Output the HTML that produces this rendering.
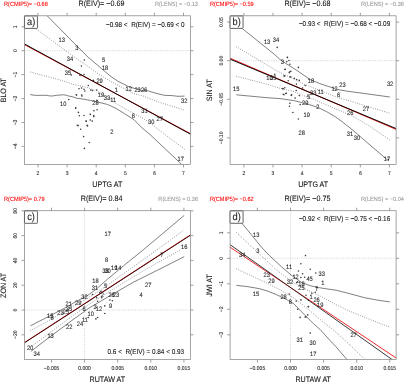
<!DOCTYPE html>
<html><head><meta charset="utf-8"><title>EIV regression panels</title>
<style>
html,body{margin:0;padding:0;background:#fff;}
body{width:404px;height:382px;overflow:hidden;font-family:"Liberation Sans",sans-serif;}
svg{display:block;text-rendering:geometricPrecision;will-change:transform;font-family:"Liberation Sans",sans-serif;}
</style></head><body>
<svg width="404" height="382" viewBox="0 0 404 382" font-family="Liberation Sans, sans-serif">
<rect width="404" height="382" fill="#fff"/>
<g transform="translate(0,0)">
<clipPath id="c0_0"><rect x="24.5" y="15.8" width="165.9" height="148.6"/></clipPath>
<text transform="translate(4,5.95) scale(1,1.1)" font-size="5.6" fill="#f00" stroke="#f00" stroke-width="0.08" text-anchor="start">R(CMIP5)= −0.68</text>
<text transform="translate(101.5,5.6) scale(1,1.1)" font-size="7.2" fill="#111" stroke="#111" stroke-width="0.08" text-anchor="middle">R(EIV)= −0.69</text>
<text transform="translate(198,5.95) scale(1,1.1)" font-size="5.6" fill="#9a9a9a" stroke="#9a9a9a" stroke-width="0.08" text-anchor="end">R(LENS) = −0.13</text>
<line x1="24.5" y1="50.7" x2="190.4" y2="50.7" stroke="#cbcbcb" stroke-width="0.8" stroke-dasharray="1.1 1.2"/>
<g clip-path="url(#c0_0)">
<path d="M40 8.5 L46.9 15.5 L76.9 46 L88 57.1 L95 63 L102.6 69.5 L110 75.8 L117.8 81.2 L127.9 86.3 L135 88.6 L142 90.5 L147.5 90.7 L155 93 L164.3 95.3 L172 95.6 L178 96.3 L184.5 96.1" fill="none" stroke="#5c5c5c" stroke-width="0.78"/>
<path d="M30.2 94.5 L33 95.1 L36.4 95.4 L42 95.3 L46.3 95.3 L49 95.8 L50.6 96 L53 95.9 L56.2 95.4 L60 95 L63.6 94.8 L66 95.2 L68.5 96 L71 96.4 L74 97.2 L76 98.1 L82 98.9 L90.8 100.5 L100 102.6 L107.7 104.5 L116 108.4 L124.5 113.6 L134 119.7 L142 127.9 L150 134.5 L181.6 164.3 L186 168.5" fill="none" stroke="#5c5c5c" stroke-width="0.78"/>
<path d="M30.4 24.9 L36 28.9 L74 56.8 L88 66.4 L99.3 74.5 L112 82.2 L124.5 88.8 L134 93.6 L142 95.6 L160 102.5 L183.7 109.9" fill="none" stroke="#444" stroke-width="0.72" stroke-dasharray="0.75 1.6"/>
<path d="M30.4 72 L60 80 L74 84.6 L88 87.7 L97.6 91.3 L114.4 102.6 L134 113.8 L142 117.8 L150.8 123.4 L164.3 134 L184.5 149" fill="none" stroke="#444" stroke-width="0.72" stroke-dasharray="0.75 1.6"/>
<circle cx="84.3" cy="60" r="0.78" fill="#383838"/>
<circle cx="81.4" cy="66" r="0.78" fill="#383838"/>
<circle cx="84" cy="74.5" r="0.78" fill="#383838"/>
<circle cx="80" cy="75.4" r="0.78" fill="#383838"/>
<circle cx="93.4" cy="80.4" r="0.78" fill="#383838"/>
<circle cx="88.3" cy="85.5" r="0.78" fill="#383838"/>
<circle cx="79" cy="88.8" r="0.78" fill="#383838"/>
<circle cx="81.6" cy="88" r="0.78" fill="#383838"/>
<circle cx="84" cy="89.3" r="0.78" fill="#383838"/>
<circle cx="90.8" cy="90" r="0.78" fill="#383838"/>
<circle cx="92.5" cy="90.5" r="0.78" fill="#383838"/>
<circle cx="96.7" cy="90" r="0.78" fill="#383838"/>
<circle cx="76.5" cy="94.7" r="0.78" fill="#383838"/>
<circle cx="81.6" cy="95" r="0.78" fill="#383838"/>
<circle cx="71.3" cy="75" r="0.78" fill="#383838"/>
<circle cx="84.8" cy="91" r="0.78" fill="#383838"/>
<circle cx="76.4" cy="94.9" r="0.78" fill="#383838"/>
<circle cx="82" cy="96.1" r="0.78" fill="#383838"/>
<circle cx="68.8" cy="99.5" r="0.78" fill="#383838"/>
<circle cx="75.6" cy="108.2" r="0.78" fill="#383838"/>
<circle cx="78.4" cy="112.4" r="0.78" fill="#383838"/>
<circle cx="79.3" cy="115.8" r="0.78" fill="#383838"/>
<circle cx="84" cy="115.5" r="0.78" fill="#383838"/>
<circle cx="86.2" cy="121.3" r="0.78" fill="#383838"/>
<circle cx="78.1" cy="125.6" r="0.78" fill="#383838"/>
<circle cx="80.6" cy="129.3" r="0.78" fill="#383838"/>
<circle cx="75.7" cy="107.7" r="0.78" fill="#383838"/>
<circle cx="90.3" cy="114.4" r="0.78" fill="#383838"/>
<circle cx="93.9" cy="110.7" r="0.78" fill="#383838"/>
<circle cx="97.1" cy="109.7" r="0.78" fill="#383838"/>
<circle cx="93.7" cy="115.6" r="0.78" fill="#383838"/>
<circle cx="86.1" cy="121.1" r="0.78" fill="#383838"/>
<circle cx="90.3" cy="120" r="0.78" fill="#383838"/>
<circle cx="92.2" cy="121.1" r="0.78" fill="#383838"/>
<circle cx="77.4" cy="125.4" r="0.78" fill="#383838"/>
<circle cx="87.1" cy="125.4" r="0.78" fill="#383838"/>
<circle cx="83.6" cy="136.6" r="0.78" fill="#383838"/>
<circle cx="89.2" cy="142.5" r="0.78" fill="#383838"/>
<circle cx="84.4" cy="148.4" r="0.78" fill="#383838"/>
<circle cx="93.8" cy="116.6" r="0.78" fill="#383838"/>
<circle cx="87.6" cy="126" r="0.78" fill="#383838"/>
<circle cx="96.9" cy="100.3" r="0.78" fill="#383838"/>
<path d="M22.5 43.53 L192.5 134.77" fill="none" stroke="#f00000" stroke-width="0.95"/>
<path d="M22.5 42.91 L192.5 135.29" fill="none" stroke="#000" stroke-width="0.95"/>
</g>
<text transform="translate(61.8,41.7) scale(1,1.1)" font-size="5.75" fill="#262626" stroke="#262626" stroke-width="0.08" text-anchor="middle">13</text>
<text transform="translate(76.9,50.1) scale(1,1.1)" font-size="5.75" fill="#262626" stroke="#262626" stroke-width="0.08" text-anchor="middle">3</text>
<text transform="translate(70,60.5) scale(1,1.1)" font-size="5.75" fill="#262626" stroke="#262626" stroke-width="0.08" text-anchor="middle">34</text>
<text transform="translate(68,75) scale(1,1.1)" font-size="5.75" fill="#262626" stroke="#262626" stroke-width="0.08" text-anchor="middle">35</text>
<text transform="translate(103.5,61.9) scale(1,1.1)" font-size="5.75" fill="#262626" stroke="#262626" stroke-width="0.08" text-anchor="middle">5</text>
<text transform="translate(105.1,69.5) scale(1,1.1)" font-size="5.75" fill="#262626" stroke="#262626" stroke-width="0.08" text-anchor="middle">18</text>
<text transform="translate(99.6,83.1) scale(1,1.1)" font-size="5.75" fill="#262626" stroke="#262626" stroke-width="0.08" text-anchor="middle">29</text>
<text transform="translate(116.4,92.3) scale(1,1.1)" font-size="5.75" fill="#262626" stroke="#262626" stroke-width="0.08" text-anchor="middle">1</text>
<text transform="translate(128.7,91) scale(1,1.1)" font-size="5.75" fill="#262626" stroke="#262626" stroke-width="0.08" text-anchor="middle">12</text>
<text transform="translate(137.6,92.2) scale(1,1.1)" font-size="5.75" fill="#262626" stroke="#262626" stroke-width="0.08" text-anchor="middle">23</text>
<text transform="translate(144.1,92.1) scale(1,1.1)" font-size="5.75" fill="#262626" stroke="#262626" stroke-width="0.08" text-anchor="middle">26</text>
<text transform="translate(100.9,96.9) scale(1,1.1)" font-size="5.75" fill="#262626" stroke="#262626" stroke-width="0.08" text-anchor="middle">19</text>
<text transform="translate(107,99.7) scale(1,1.1)" font-size="5.75" fill="#262626" stroke="#262626" stroke-width="0.08" text-anchor="middle">33</text>
<text transform="translate(113.2,102.4) scale(1,1.1)" font-size="5.75" fill="#262626" stroke="#262626" stroke-width="0.08" text-anchor="middle">11</text>
<text transform="translate(95.4,105) scale(1,1.1)" font-size="5.75" fill="#262626" stroke="#262626" stroke-width="0.08" text-anchor="middle">28</text>
<text transform="translate(63.3,106.4) scale(1,1.1)" font-size="5.75" fill="#262626" stroke="#262626" stroke-width="0.08" text-anchor="middle">10</text>
<text transform="translate(184.2,103) scale(1,1.1)" font-size="5.75" fill="#262626" stroke="#262626" stroke-width="0.08" text-anchor="middle">32</text>
<text transform="translate(144.4,113.1) scale(1,1.1)" font-size="5.75" fill="#262626" stroke="#262626" stroke-width="0.08" text-anchor="middle">31</text>
<text transform="translate(159.8,121) scale(1,1.1)" font-size="5.75" fill="#262626" stroke="#262626" stroke-width="0.08" text-anchor="middle">27</text>
<text transform="translate(151.3,124.1) scale(1,1.1)" font-size="5.75" fill="#262626" stroke="#262626" stroke-width="0.08" text-anchor="middle">30</text>
<text transform="translate(133.3,118.3) scale(1,1.1)" font-size="5.75" fill="#262626" stroke="#262626" stroke-width="0.08" text-anchor="middle">6</text>
<text transform="translate(111.9,134) scale(1,1.1)" font-size="5.75" fill="#262626" stroke="#262626" stroke-width="0.08" text-anchor="middle">2</text>
<text transform="translate(180.8,161.4) scale(1,1.1)" font-size="5.75" fill="#262626" stroke="#262626" stroke-width="0.08" text-anchor="middle">17</text>
<rect x="24.5" y="15.8" width="165.9" height="148.6" fill="none" stroke="#888" stroke-width="0.75"/>
<line x1="38" y1="164.4" x2="38" y2="167.4" stroke="#848484" stroke-width="0.78"/>
<line x1="38" y1="15.8" x2="38" y2="12.8" stroke="#848484" stroke-width="0.78"/>
<text transform="translate(38,175) scale(1,1.1)" font-size="5.05" fill="#262626" stroke="#262626" stroke-width="0.08" text-anchor="middle">2</text>
<line x1="67.1" y1="164.4" x2="67.1" y2="167.4" stroke="#848484" stroke-width="0.78"/>
<line x1="67.1" y1="15.8" x2="67.1" y2="12.8" stroke="#848484" stroke-width="0.78"/>
<text transform="translate(67.1,175) scale(1,1.1)" font-size="5.05" fill="#262626" stroke="#262626" stroke-width="0.08" text-anchor="middle">3</text>
<line x1="96.2" y1="164.4" x2="96.2" y2="167.4" stroke="#848484" stroke-width="0.78"/>
<line x1="96.2" y1="15.8" x2="96.2" y2="12.8" stroke="#848484" stroke-width="0.78"/>
<text transform="translate(96.2,175) scale(1,1.1)" font-size="5.05" fill="#262626" stroke="#262626" stroke-width="0.08" text-anchor="middle">4</text>
<line x1="125.3" y1="164.4" x2="125.3" y2="167.4" stroke="#848484" stroke-width="0.78"/>
<line x1="125.3" y1="15.8" x2="125.3" y2="12.8" stroke="#848484" stroke-width="0.78"/>
<text transform="translate(125.3,175) scale(1,1.1)" font-size="5.05" fill="#262626" stroke="#262626" stroke-width="0.08" text-anchor="middle">5</text>
<line x1="154.4" y1="164.4" x2="154.4" y2="167.4" stroke="#848484" stroke-width="0.78"/>
<line x1="154.4" y1="15.8" x2="154.4" y2="12.8" stroke="#848484" stroke-width="0.78"/>
<text transform="translate(154.4,175) scale(1,1.1)" font-size="5.05" fill="#262626" stroke="#262626" stroke-width="0.08" text-anchor="middle">6</text>
<line x1="183.5" y1="164.4" x2="183.5" y2="167.4" stroke="#848484" stroke-width="0.78"/>
<line x1="183.5" y1="15.8" x2="183.5" y2="12.8" stroke="#848484" stroke-width="0.78"/>
<text transform="translate(183.5,175) scale(1,1.1)" font-size="5.05" fill="#262626" stroke="#262626" stroke-width="0.08" text-anchor="middle">7</text>
<line x1="24.5" y1="26.77" x2="21.5" y2="26.77" stroke="#848484" stroke-width="0.78"/>
<line x1="190.4" y1="26.77" x2="193.4" y2="26.77" stroke="#848484" stroke-width="0.78"/>
<text transform="translate(17.4,26.77) rotate(-90) scale(1,1.1)" font-size="5.05" fill="#262626" stroke="#262626" stroke-width="0.08" text-anchor="middle">1</text>
<line x1="24.5" y1="50.7" x2="21.5" y2="50.7" stroke="#848484" stroke-width="0.78"/>
<line x1="190.4" y1="50.7" x2="193.4" y2="50.7" stroke="#848484" stroke-width="0.78"/>
<text transform="translate(17.4,50.7) rotate(-90) scale(1,1.1)" font-size="5.05" fill="#262626" stroke="#262626" stroke-width="0.08" text-anchor="middle">0</text>
<line x1="24.5" y1="74.63" x2="21.5" y2="74.63" stroke="#848484" stroke-width="0.78"/>
<line x1="190.4" y1="74.63" x2="193.4" y2="74.63" stroke="#848484" stroke-width="0.78"/>
<text transform="translate(17.4,74.63) rotate(-90) scale(1,1.1)" font-size="5.05" fill="#262626" stroke="#262626" stroke-width="0.08" text-anchor="middle">−1</text>
<line x1="24.5" y1="98.56" x2="21.5" y2="98.56" stroke="#848484" stroke-width="0.78"/>
<line x1="190.4" y1="98.56" x2="193.4" y2="98.56" stroke="#848484" stroke-width="0.78"/>
<text transform="translate(17.4,98.56) rotate(-90) scale(1,1.1)" font-size="5.05" fill="#262626" stroke="#262626" stroke-width="0.08" text-anchor="middle">−2</text>
<line x1="24.5" y1="122.49" x2="21.5" y2="122.49" stroke="#848484" stroke-width="0.78"/>
<line x1="190.4" y1="122.49" x2="193.4" y2="122.49" stroke="#848484" stroke-width="0.78"/>
<text transform="translate(17.4,122.49) rotate(-90) scale(1,1.1)" font-size="5.05" fill="#262626" stroke="#262626" stroke-width="0.08" text-anchor="middle">−3</text>
<line x1="24.5" y1="146.42" x2="21.5" y2="146.42" stroke="#848484" stroke-width="0.78"/>
<line x1="190.4" y1="146.42" x2="193.4" y2="146.42" stroke="#848484" stroke-width="0.78"/>
<text transform="translate(17.4,146.42) rotate(-90) scale(1,1.1)" font-size="5.05" fill="#262626" stroke="#262626" stroke-width="0.08" text-anchor="middle">−4</text>
<text transform="translate(107.3,187.1) scale(1,1.1)" font-size="7.15" fill="#111" stroke="#111" stroke-width="0.08" text-anchor="middle">UPTG AT</text>
<text transform="translate(6.4,90.2) rotate(-90) scale(1,1.1)" font-size="7.1" fill="#111" stroke="#111" stroke-width="0.08" text-anchor="middle">BLO AT</text>
<rect x="24.45" y="16.0" width="13" height="12.4" rx="0.6" fill="#fff" stroke="#5c5c5c" stroke-width="0.95"/>
<text transform="translate(31.1,25.05) scale(1,1.1)" font-size="9.3" fill="#222" stroke="#222" stroke-width="0.08" text-anchor="middle">a)</text>
<text transform="translate(184.6,26.6) scale(1,1.1)" font-size="6.4" fill="#111" stroke="#111" stroke-width="0.08" text-anchor="end" xml:space="preserve">−0.98 &lt;  R(EIV) = −0.69 &lt; 0</text>
</g>
<g transform="translate(205.9,0)">
<clipPath id="c205_0"><rect x="24.2" y="15.8" width="166.0" height="148.6"/></clipPath>
<text transform="translate(4,5.95) scale(1,1.1)" font-size="5.6" fill="#f00" stroke="#f00" stroke-width="0.08" text-anchor="start">R(CMIP5)= −0.59</text>
<text transform="translate(101.5,5.6) scale(1,1.1)" font-size="7.2" fill="#111" stroke="#111" stroke-width="0.08" text-anchor="middle">R(EIV)= −0.68</text>
<text transform="translate(198,5.95) scale(1,1.1)" font-size="5.6" fill="#9a9a9a" stroke="#9a9a9a" stroke-width="0.08" text-anchor="end">R(LENS) = −0.36</text>
<line x1="24.2" y1="60.7" x2="190.2" y2="60.7" stroke="#cbcbcb" stroke-width="0.8" stroke-dasharray="1.1 1.2"/>
<g clip-path="url(#c205_0)">
<path d="M30.4 23.5 L36 28.2 L68.8 54.6 L74 59.4 L80 63.5 L90.8 70.3 L104.3 79.6 L114 83.6 L124.5 87.1 L130 89.2 L142 91.3 L160 93.7 L183.9 97" fill="none" stroke="#5c5c5c" stroke-width="0.78"/>
<path d="M30.4 94.8 L60 97.6 L74 98.6 L88 100.6 L95.9 102.6 L104 104.8 L112.7 107.7 L121 111.8 L129.6 116.9 L136 121.5 L142 126.2 L150 132.8 L160 141.5 L182.2 160.5" fill="none" stroke="#5c5c5c" stroke-width="0.78"/>
<path d="M30.4 46.7 L70.5 70.6 L74 72.3 L99.3 84.6 L124.5 94.7 L132.9 97.8 L142 100.3 L160 106 L184.7 113.4" fill="none" stroke="#444" stroke-width="0.72" stroke-dasharray="0.75 1.6"/>
<path d="M30.4 76.3 L60 83.9 L74 88.3 L88 91.6 L102.6 97.6 L107.7 99.3 L130 109 L142 113.9 L150 118 L165 127 L183.9 140" fill="none" stroke="#444" stroke-width="0.72" stroke-dasharray="0.75 1.6"/>
<circle cx="71.3" cy="47.4" r="0.78" fill="#383838"/>
<circle cx="81.4" cy="57.6" r="0.78" fill="#383838"/>
<circle cx="83.1" cy="60.5" r="0.78" fill="#383838"/>
<circle cx="80.9" cy="61.7" r="0.78" fill="#383838"/>
<circle cx="84" cy="64.2" r="0.78" fill="#383838"/>
<circle cx="79.3" cy="69.3" r="0.78" fill="#383838"/>
<circle cx="84.8" cy="71.4" r="0.78" fill="#383838"/>
<circle cx="83.6" cy="72.1" r="0.78" fill="#383838"/>
<circle cx="78.1" cy="76" r="0.78" fill="#383838"/>
<circle cx="84.8" cy="76.8" r="0.78" fill="#383838"/>
<circle cx="68.8" cy="74.3" r="0.78" fill="#383838"/>
<circle cx="82.3" cy="80.7" r="0.78" fill="#383838"/>
<circle cx="76.4" cy="88.6" r="0.78" fill="#383838"/>
<circle cx="78.9" cy="87.8" r="0.78" fill="#383838"/>
<circle cx="78.1" cy="94.8" r="0.78" fill="#383838"/>
<circle cx="80.3" cy="93.3" r="0.78" fill="#383838"/>
<circle cx="85.3" cy="95.4" r="0.78" fill="#383838"/>
<circle cx="84" cy="103.3" r="0.78" fill="#383838"/>
<circle cx="83.6" cy="106.3" r="0.78" fill="#383838"/>
<circle cx="87" cy="112.5" r="0.78" fill="#383838"/>
<circle cx="81.6" cy="57.3" r="0.78" fill="#383838"/>
<circle cx="92.5" cy="67.4" r="0.78" fill="#383838"/>
<circle cx="79" cy="69.5" r="0.78" fill="#383838"/>
<circle cx="83.3" cy="72.8" r="0.78" fill="#383838"/>
<circle cx="78.7" cy="75.9" r="0.78" fill="#383838"/>
<circle cx="84.1" cy="77" r="0.78" fill="#383838"/>
<circle cx="88.3" cy="78.4" r="0.78" fill="#383838"/>
<circle cx="90.8" cy="79.6" r="0.78" fill="#383838"/>
<circle cx="93.4" cy="80.4" r="0.78" fill="#383838"/>
<circle cx="90.5" cy="84.1" r="0.78" fill="#383838"/>
<circle cx="99.3" cy="85.5" r="0.78" fill="#383838"/>
<circle cx="96.7" cy="88" r="0.78" fill="#383838"/>
<circle cx="77.4" cy="88.8" r="0.78" fill="#383838"/>
<circle cx="90.3" cy="90.5" r="0.78" fill="#383838"/>
<circle cx="79.9" cy="93.5" r="0.78" fill="#383838"/>
<circle cx="77.4" cy="94.2" r="0.78" fill="#383838"/>
<circle cx="85.8" cy="94.7" r="0.78" fill="#383838"/>
<circle cx="93.4" cy="95.6" r="0.78" fill="#383838"/>
<circle cx="89.2" cy="98.1" r="0.78" fill="#383838"/>
<circle cx="94.2" cy="104.6" r="0.78" fill="#383838"/>
<circle cx="92.5" cy="119" r="0.78" fill="#383838"/>
<circle cx="182.5" cy="159.5" r="0.78" fill="#383838"/>
<path d="M22.5 57.54 L192.5 130.36" fill="none" stroke="#f00000" stroke-width="0.95"/>
<path d="M22.5 58.46 L192.5 129.54" fill="none" stroke="#000" stroke-width="0.95"/>
</g>
<text transform="translate(61.2,43.8) scale(1,1.1)" font-size="5.75" fill="#262626" stroke="#262626" stroke-width="0.08" text-anchor="middle">13</text>
<text transform="translate(70,41.7) scale(1,1.1)" font-size="5.75" fill="#262626" stroke="#262626" stroke-width="0.08" text-anchor="middle">34</text>
<text transform="translate(76.5,64) scale(1,1.1)" font-size="5.75" fill="#262626" stroke="#262626" stroke-width="0.08" text-anchor="middle">3</text>
<text transform="translate(30.4,91.2) scale(1,1.1)" font-size="5.75" fill="#262626" stroke="#262626" stroke-width="0.08" text-anchor="middle">15</text>
<text transform="translate(63.5,79.5) scale(1,1.1)" font-size="5.75" fill="#262626" stroke="#262626" stroke-width="0.08" text-anchor="middle">10</text>
<text transform="translate(67.4,80) scale(1,1.1)" font-size="5.75" fill="#262626" stroke="#262626" stroke-width="0.08" text-anchor="middle">35</text>
<text transform="translate(105.1,82.6) scale(1,1.1)" font-size="5.75" fill="#262626" stroke="#262626" stroke-width="0.08" text-anchor="middle">18</text>
<text transform="translate(136.6,86.8) scale(1,1.1)" font-size="5.75" fill="#262626" stroke="#262626" stroke-width="0.08" text-anchor="middle">23</text>
<text transform="translate(128.7,91) scale(1,1.1)" font-size="5.75" fill="#262626" stroke="#262626" stroke-width="0.08" text-anchor="middle">12</text>
<text transform="translate(132.7,97.4) scale(1,1.1)" font-size="5.75" fill="#262626" stroke="#262626" stroke-width="0.08" text-anchor="middle">6</text>
<text transform="translate(114.9,93.5) scale(1,1.1)" font-size="5.75" fill="#262626" stroke="#262626" stroke-width="0.08" text-anchor="middle">11</text>
<text transform="translate(107.3,94.7) scale(1,1.1)" font-size="5.75" fill="#262626" stroke="#262626" stroke-width="0.08" text-anchor="middle">33</text>
<text transform="translate(102.6,99.1) scale(1,1.1)" font-size="5.75" fill="#262626" stroke="#262626" stroke-width="0.08" text-anchor="middle">5</text>
<text transform="translate(99.3,105) scale(1,1.1)" font-size="5.75" fill="#262626" stroke="#262626" stroke-width="0.08" text-anchor="middle">29</text>
<text transform="translate(111.9,109) scale(1,1.1)" font-size="5.75" fill="#262626" stroke="#262626" stroke-width="0.08" text-anchor="middle">2</text>
<text transform="translate(100.9,116.9) scale(1,1.1)" font-size="5.75" fill="#262626" stroke="#262626" stroke-width="0.08" text-anchor="middle">19</text>
<text transform="translate(95.9,134.8) scale(1,1.1)" font-size="5.75" fill="#262626" stroke="#262626" stroke-width="0.08" text-anchor="middle">28</text>
<text transform="translate(184.2,85.8) scale(1,1.1)" font-size="5.75" fill="#262626" stroke="#262626" stroke-width="0.08" text-anchor="middle">32</text>
<text transform="translate(160,110.5) scale(1,1.1)" font-size="5.75" fill="#262626" stroke="#262626" stroke-width="0.08" text-anchor="middle">27</text>
<text transform="translate(144.3,115) scale(1,1.1)" font-size="5.75" fill="#262626" stroke="#262626" stroke-width="0.08" text-anchor="middle">26</text>
<text transform="translate(144,135.8) scale(1,1.1)" font-size="5.75" fill="#262626" stroke="#262626" stroke-width="0.08" text-anchor="middle">31</text>
<text transform="translate(151,139.6) scale(1,1.1)" font-size="5.75" fill="#262626" stroke="#262626" stroke-width="0.08" text-anchor="middle">30</text>
<text transform="translate(181,161) scale(1,1.1)" font-size="5.75" fill="#262626" stroke="#262626" stroke-width="0.08" text-anchor="middle">17</text>
<rect x="24.2" y="15.8" width="166.0" height="148.6" fill="none" stroke="#888" stroke-width="0.75"/>
<line x1="38" y1="164.4" x2="38" y2="167.4" stroke="#848484" stroke-width="0.78"/>
<line x1="38" y1="15.8" x2="38" y2="12.8" stroke="#848484" stroke-width="0.78"/>
<text transform="translate(38,175) scale(1,1.1)" font-size="5.05" fill="#262626" stroke="#262626" stroke-width="0.08" text-anchor="middle">2</text>
<line x1="67.1" y1="164.4" x2="67.1" y2="167.4" stroke="#848484" stroke-width="0.78"/>
<line x1="67.1" y1="15.8" x2="67.1" y2="12.8" stroke="#848484" stroke-width="0.78"/>
<text transform="translate(67.1,175) scale(1,1.1)" font-size="5.05" fill="#262626" stroke="#262626" stroke-width="0.08" text-anchor="middle">3</text>
<line x1="96.2" y1="164.4" x2="96.2" y2="167.4" stroke="#848484" stroke-width="0.78"/>
<line x1="96.2" y1="15.8" x2="96.2" y2="12.8" stroke="#848484" stroke-width="0.78"/>
<text transform="translate(96.2,175) scale(1,1.1)" font-size="5.05" fill="#262626" stroke="#262626" stroke-width="0.08" text-anchor="middle">4</text>
<line x1="125.3" y1="164.4" x2="125.3" y2="167.4" stroke="#848484" stroke-width="0.78"/>
<line x1="125.3" y1="15.8" x2="125.3" y2="12.8" stroke="#848484" stroke-width="0.78"/>
<text transform="translate(125.3,175) scale(1,1.1)" font-size="5.05" fill="#262626" stroke="#262626" stroke-width="0.08" text-anchor="middle">5</text>
<line x1="154.4" y1="164.4" x2="154.4" y2="167.4" stroke="#848484" stroke-width="0.78"/>
<line x1="154.4" y1="15.8" x2="154.4" y2="12.8" stroke="#848484" stroke-width="0.78"/>
<text transform="translate(154.4,175) scale(1,1.1)" font-size="5.05" fill="#262626" stroke="#262626" stroke-width="0.08" text-anchor="middle">6</text>
<line x1="183.5" y1="164.4" x2="183.5" y2="167.4" stroke="#848484" stroke-width="0.78"/>
<line x1="183.5" y1="15.8" x2="183.5" y2="12.8" stroke="#848484" stroke-width="0.78"/>
<text transform="translate(183.5,175) scale(1,1.1)" font-size="5.05" fill="#262626" stroke="#262626" stroke-width="0.08" text-anchor="middle">7</text>
<line x1="24.2" y1="22.1" x2="21.2" y2="22.1" stroke="#848484" stroke-width="0.78"/>
<line x1="190.2" y1="22.1" x2="193.2" y2="22.1" stroke="#848484" stroke-width="0.78"/>
<text transform="translate(17.4,22.1) rotate(-90) scale(1,1.1)" font-size="5.05" fill="#262626" stroke="#262626" stroke-width="0.08" text-anchor="middle">0.05</text>
<line x1="24.2" y1="60.7" x2="21.2" y2="60.7" stroke="#848484" stroke-width="0.78"/>
<line x1="190.2" y1="60.7" x2="193.2" y2="60.7" stroke="#848484" stroke-width="0.78"/>
<text transform="translate(17.4,60.7) rotate(-90) scale(1,1.1)" font-size="5.05" fill="#262626" stroke="#262626" stroke-width="0.08" text-anchor="middle">0.00</text>
<line x1="24.2" y1="99.3" x2="21.2" y2="99.3" stroke="#848484" stroke-width="0.78"/>
<line x1="190.2" y1="99.3" x2="193.2" y2="99.3" stroke="#848484" stroke-width="0.78"/>
<text transform="translate(17.4,99.3) rotate(-90) scale(1,1.1)" font-size="5.05" fill="#262626" stroke="#262626" stroke-width="0.08" text-anchor="middle">−0.05</text>
<line x1="24.2" y1="137.9" x2="21.2" y2="137.9" stroke="#848484" stroke-width="0.78"/>
<line x1="190.2" y1="137.9" x2="193.2" y2="137.9" stroke="#848484" stroke-width="0.78"/>
<text transform="translate(17.4,137.9) rotate(-90) scale(1,1.1)" font-size="5.05" fill="#262626" stroke="#262626" stroke-width="0.08" text-anchor="middle">−0.10</text>
<text transform="translate(107.3,187.1) scale(1,1.1)" font-size="7.15" fill="#111" stroke="#111" stroke-width="0.08" text-anchor="middle">UPTG AT</text>
<text transform="translate(6.4,90.2) rotate(-90) scale(1,1.1)" font-size="7.1" fill="#111" stroke="#111" stroke-width="0.08" text-anchor="middle">SIN AT</text>
<rect x="24.15" y="16.0" width="13" height="12.4" rx="0.6" fill="#fff" stroke="#5c5c5c" stroke-width="0.95"/>
<text transform="translate(30.8,25.05) scale(1,1.1)" font-size="9.3" fill="#222" stroke="#222" stroke-width="0.08" text-anchor="middle">b)</text>
<text transform="translate(184.3,26.2) scale(1,1.1)" font-size="6.4" fill="#111" stroke="#111" stroke-width="0.08" text-anchor="end" xml:space="preserve">−0.93 &lt;  R(EIV) = −0.68 &lt; −0.09</text>
</g>
<g transform="translate(0,195.2)">
<clipPath id="c0_195"><rect x="24.5" y="15.5" width="165.9" height="148.9"/></clipPath>
<text transform="translate(4,5.3) scale(1,1.1)" font-size="5.6" fill="#f00" stroke="#f00" stroke-width="0.08" text-anchor="start">R(CMIP5)= 0.79</text>
<text transform="translate(101.6,5.6) scale(1,1.1)" font-size="7.2" fill="#111" stroke="#111" stroke-width="0.08" text-anchor="middle">R(EIV)= 0.84</text>
<text transform="translate(198,5.3) scale(1,1.1)" font-size="5.6" fill="#9a9a9a" stroke="#9a9a9a" stroke-width="0.08" text-anchor="end">R(LENS) = 0.36</text>
<line x1="24.5" y1="114.8" x2="190.4" y2="114.8" stroke="#cbcbcb" stroke-width="0.8" stroke-dasharray="1.1 1.2"/>
<line x1="84.6" y1="15.5" x2="84.6" y2="164.4" stroke="#cbcbcb" stroke-width="0.8" stroke-dasharray="1.1 1.2"/>
<g clip-path="url(#c0_195)">
<path d="M30.4 130.6 L50 120.6 L68.8 110.7 L74 107.5 L88 100 L95.9 94.2 L107.7 83.8 L124.5 69.8 L142 55.7 L160 40.6 L184.2 20.2" fill="none" stroke="#5c5c5c" stroke-width="0.78"/>
<path d="M30.9 156.2 L49.5 141.9 L74 123.7 L84 116.6 L88 113.5 L110 100.5 L134 86.7 L160.1 73.7 L184.2 61.5" fill="none" stroke="#5c5c5c" stroke-width="0.78"/>
<path d="M30.4 135.5 L60 119.2 L74 110.6 L88 102.6 L100 95.2 L116.9 83.2 L142 65.4 L160 52.5 L183.7 35.1" fill="none" stroke="#444" stroke-width="0.72" stroke-dasharray="0.75 1.6"/>
<path d="M31.8 151.1 L60 130 L74 119.6 L88 109.9 L110 95.8 L134 81.3 L142 76.5 L160 66 L181.1 54.5" fill="none" stroke="#444" stroke-width="0.72" stroke-dasharray="0.75 1.6"/>
<circle cx="109.9" cy="104.8" r="0.78" fill="#383838"/>
<circle cx="112.4" cy="105.5" r="0.78" fill="#383838"/>
<circle cx="104.8" cy="110.7" r="0.78" fill="#383838"/>
<circle cx="104.8" cy="118.3" r="0.78" fill="#383838"/>
<circle cx="95.9" cy="123.7" r="0.78" fill="#383838"/>
<circle cx="97.6" cy="122.3" r="0.78" fill="#383838"/>
<circle cx="88.3" cy="122.3" r="0.78" fill="#383838"/>
<circle cx="100.9" cy="96.2" r="0.78" fill="#383838"/>
<circle cx="99.6" cy="97.6" r="0.78" fill="#383838"/>
<circle cx="96.7" cy="102.6" r="0.78" fill="#383838"/>
<circle cx="101.8" cy="102.6" r="0.78" fill="#383838"/>
<circle cx="97.6" cy="106" r="0.78" fill="#383838"/>
<circle cx="92.5" cy="99.3" r="0.78" fill="#383838"/>
<path d="M22.5 148.6 L192.5 38.35" fill="none" stroke="#f00000" stroke-width="0.9"/>
<path d="M22.5 148.9 L192.5 38.7" fill="none" stroke="#200606" stroke-width="0.9"/>
</g>
<text transform="translate(107.7,41) scale(1,1.1)" font-size="5.75" fill="#262626" stroke="#262626" stroke-width="0.08" text-anchor="middle">17</text>
<text transform="translate(106.5,66.6) scale(1,1.1)" font-size="5.75" fill="#262626" stroke="#262626" stroke-width="0.08" text-anchor="middle">8</text>
<text transform="translate(114.3,74.5) scale(1,1.1)" font-size="5.75" fill="#262626" stroke="#262626" stroke-width="0.08" text-anchor="middle">19</text>
<text transform="translate(118.3,74.7) scale(1,1.1)" font-size="5.75" fill="#262626" stroke="#262626" stroke-width="0.08" text-anchor="middle">14</text>
<text transform="translate(105.4,77.9) scale(1,1.1)" font-size="5.75" fill="#262626" stroke="#262626" stroke-width="0.08" text-anchor="middle">33</text>
<text transform="translate(107.6,77.9) scale(1,1.1)" font-size="5.75" fill="#262626" stroke="#262626" stroke-width="0.08" text-anchor="middle">30</text>
<text transform="translate(184.2,54.1) scale(1,1.1)" font-size="5.75" fill="#262626" stroke="#262626" stroke-width="0.08" text-anchor="middle">16</text>
<text transform="translate(161.8,62) scale(1,1.1)" font-size="5.75" fill="#262626" stroke="#262626" stroke-width="0.08" text-anchor="middle">7</text>
<text transform="translate(95.5,88) scale(1,1.1)" font-size="5.75" fill="#262626" stroke="#262626" stroke-width="0.08" text-anchor="middle">18</text>
<text transform="translate(105.5,92.5) scale(1,1.1)" font-size="5.75" fill="#262626" stroke="#262626" stroke-width="0.08" text-anchor="middle">5</text>
<text transform="translate(95,94.7) scale(1,1.1)" font-size="5.75" fill="#262626" stroke="#262626" stroke-width="0.08" text-anchor="middle">31</text>
<text transform="translate(84.4,103.7) scale(1,1.1)" font-size="5.75" fill="#262626" stroke="#262626" stroke-width="0.08" text-anchor="middle">32</text>
<text transform="translate(78.2,110) scale(1,1.1)" font-size="5.75" fill="#262626" stroke="#262626" stroke-width="0.08" text-anchor="middle">29</text>
<text transform="translate(102.3,101.5) scale(1,1.1)" font-size="5.75" fill="#262626" stroke="#262626" stroke-width="0.08" text-anchor="middle">2</text>
<text transform="translate(111.6,101.8) scale(1,1.1)" font-size="5.75" fill="#262626" stroke="#262626" stroke-width="0.08" text-anchor="middle">26</text>
<text transform="translate(116,101.8) scale(1,1.1)" font-size="5.75" fill="#262626" stroke="#262626" stroke-width="0.08" text-anchor="middle">23</text>
<text transform="translate(141,102.2) scale(1,1.1)" font-size="5.75" fill="#262626" stroke="#262626" stroke-width="0.08" text-anchor="middle">4</text>
<text transform="translate(110.7,113.2) scale(1,1.1)" font-size="5.75" fill="#262626" stroke="#262626" stroke-width="0.08" text-anchor="middle">9</text>
<text transform="translate(95,114.1) scale(1,1.1)" font-size="5.75" fill="#262626" stroke="#262626" stroke-width="0.08" text-anchor="middle">3</text>
<text transform="translate(98.9,115.8) scale(1,1.1)" font-size="5.75" fill="#262626" stroke="#262626" stroke-width="0.08" text-anchor="middle">12</text>
<text transform="translate(84.2,116) scale(1,1.1)" font-size="5.75" fill="#262626" stroke="#262626" stroke-width="0.08" text-anchor="middle">6</text>
<text transform="translate(90.8,120.8) scale(1,1.1)" font-size="5.75" fill="#262626" stroke="#262626" stroke-width="0.08" text-anchor="middle">10</text>
<text transform="translate(85,127.2) scale(1,1.1)" font-size="5.75" fill="#262626" stroke="#262626" stroke-width="0.08" text-anchor="middle">11</text>
<text transform="translate(79.9,130.9) scale(1,1.1)" font-size="5.75" fill="#262626" stroke="#262626" stroke-width="0.08" text-anchor="middle">24</text>
<text transform="translate(30.1,154.6) scale(1,1.1)" font-size="5.75" fill="#262626" stroke="#262626" stroke-width="0.08" text-anchor="middle">20</text>
<text transform="translate(36.8,160.6) scale(1,1.1)" font-size="5.75" fill="#262626" stroke="#262626" stroke-width="0.08" text-anchor="middle">34</text>
<text transform="translate(50.6,142.9) scale(1,1.1)" font-size="5.75" fill="#262626" stroke="#262626" stroke-width="0.08" text-anchor="middle">13</text>
<text transform="translate(50.3,123) scale(1,1.1)" font-size="5.75" fill="#262626" stroke="#262626" stroke-width="0.08" text-anchor="middle">15</text>
<text transform="translate(52.2,124.4) scale(1,1.1)" font-size="5.75" fill="#262626" stroke="#262626" stroke-width="0.08" text-anchor="middle">8</text>
<text transform="translate(68.8,110.8) scale(1,1.1)" font-size="5.75" fill="#262626" stroke="#262626" stroke-width="0.08" text-anchor="middle">21</text>
<text transform="translate(60.5,120) scale(1,1.1)" font-size="5.75" fill="#262626" stroke="#262626" stroke-width="0.08" text-anchor="middle">23</text>
<text transform="translate(66,119.2) scale(1,1.1)" font-size="5.75" fill="#262626" stroke="#262626" stroke-width="0.08" text-anchor="middle">25</text>
<text transform="translate(69,115.8) scale(1,1.1)" font-size="5.75" fill="#262626" stroke="#262626" stroke-width="0.08" text-anchor="middle">35</text>
<text transform="translate(69.2,133.5) scale(1,1.1)" font-size="5.75" fill="#262626" stroke="#262626" stroke-width="0.08" text-anchor="middle">22</text>
<text transform="translate(148.3,91.5) scale(1,1.1)" font-size="5.75" fill="#262626" stroke="#262626" stroke-width="0.08" text-anchor="middle">27</text>
<rect x="24.5" y="15.5" width="165.9" height="148.9" fill="none" stroke="#888" stroke-width="0.75"/>
<line x1="51.5" y1="164.4" x2="51.5" y2="167.4" stroke="#848484" stroke-width="0.78"/>
<line x1="51.5" y1="15.5" x2="51.5" y2="12.5" stroke="#848484" stroke-width="0.78"/>
<text transform="translate(51.5,175) scale(1,1.1)" font-size="5.05" fill="#262626" stroke="#262626" stroke-width="0.08" text-anchor="middle">−0.005</text>
<line x1="84.6" y1="164.4" x2="84.6" y2="167.4" stroke="#848484" stroke-width="0.78"/>
<line x1="84.6" y1="15.5" x2="84.6" y2="12.5" stroke="#848484" stroke-width="0.78"/>
<text transform="translate(84.6,175) scale(1,1.1)" font-size="5.05" fill="#262626" stroke="#262626" stroke-width="0.08" text-anchor="middle">0.000</text>
<line x1="117.7" y1="164.4" x2="117.7" y2="167.4" stroke="#848484" stroke-width="0.78"/>
<line x1="117.7" y1="15.5" x2="117.7" y2="12.5" stroke="#848484" stroke-width="0.78"/>
<text transform="translate(117.7,175) scale(1,1.1)" font-size="5.05" fill="#262626" stroke="#262626" stroke-width="0.08" text-anchor="middle">0.005</text>
<line x1="150.8" y1="164.4" x2="150.8" y2="167.4" stroke="#848484" stroke-width="0.78"/>
<line x1="150.8" y1="15.5" x2="150.8" y2="12.5" stroke="#848484" stroke-width="0.78"/>
<text transform="translate(150.8,175) scale(1,1.1)" font-size="5.05" fill="#262626" stroke="#262626" stroke-width="0.08" text-anchor="middle">0.010</text>
<line x1="183.9" y1="164.4" x2="183.9" y2="167.4" stroke="#848484" stroke-width="0.78"/>
<line x1="183.9" y1="15.5" x2="183.9" y2="12.5" stroke="#848484" stroke-width="0.78"/>
<text transform="translate(183.9,175) scale(1,1.1)" font-size="5.05" fill="#262626" stroke="#262626" stroke-width="0.08" text-anchor="middle">0.015</text>
<line x1="24.5" y1="15.64" x2="21.5" y2="15.64" stroke="#848484" stroke-width="0.78"/>
<line x1="190.4" y1="15.64" x2="193.4" y2="15.64" stroke="#848484" stroke-width="0.78"/>
<text transform="translate(17.4,15.64) rotate(-90) scale(1,1.1)" font-size="5.05" fill="#262626" stroke="#262626" stroke-width="0.08" text-anchor="middle">80</text>
<line x1="24.5" y1="40.43" x2="21.5" y2="40.43" stroke="#848484" stroke-width="0.78"/>
<line x1="190.4" y1="40.43" x2="193.4" y2="40.43" stroke="#848484" stroke-width="0.78"/>
<text transform="translate(17.4,40.43) rotate(-90) scale(1,1.1)" font-size="5.05" fill="#262626" stroke="#262626" stroke-width="0.08" text-anchor="middle">60</text>
<line x1="24.5" y1="65.22" x2="21.5" y2="65.22" stroke="#848484" stroke-width="0.78"/>
<line x1="190.4" y1="65.22" x2="193.4" y2="65.22" stroke="#848484" stroke-width="0.78"/>
<text transform="translate(17.4,65.22) rotate(-90) scale(1,1.1)" font-size="5.05" fill="#262626" stroke="#262626" stroke-width="0.08" text-anchor="middle">40</text>
<line x1="24.5" y1="90.01" x2="21.5" y2="90.01" stroke="#848484" stroke-width="0.78"/>
<line x1="190.4" y1="90.01" x2="193.4" y2="90.01" stroke="#848484" stroke-width="0.78"/>
<text transform="translate(17.4,90.01) rotate(-90) scale(1,1.1)" font-size="5.05" fill="#262626" stroke="#262626" stroke-width="0.08" text-anchor="middle">20</text>
<line x1="24.5" y1="114.8" x2="21.5" y2="114.8" stroke="#848484" stroke-width="0.78"/>
<line x1="190.4" y1="114.8" x2="193.4" y2="114.8" stroke="#848484" stroke-width="0.78"/>
<text transform="translate(17.4,114.8) rotate(-90) scale(1,1.1)" font-size="5.05" fill="#262626" stroke="#262626" stroke-width="0.08" text-anchor="middle">0</text>
<line x1="24.5" y1="139.59" x2="21.5" y2="139.59" stroke="#848484" stroke-width="0.78"/>
<line x1="190.4" y1="139.59" x2="193.4" y2="139.59" stroke="#848484" stroke-width="0.78"/>
<text transform="translate(17.4,139.59) rotate(-90) scale(1,1.1)" font-size="5.05" fill="#262626" stroke="#262626" stroke-width="0.08" text-anchor="middle">−20</text>
<text transform="translate(107.3,186.3) scale(1,1.1)" font-size="7.15" fill="#111" stroke="#111" stroke-width="0.08" text-anchor="middle">RUTAW AT</text>
<text transform="translate(6.4,90.2) rotate(-90) scale(1,1.1)" font-size="7.1" fill="#111" stroke="#111" stroke-width="0.08" text-anchor="middle">ZON AT</text>
<rect x="24.45" y="15.7" width="13" height="12.4" rx="0.6" fill="#fff" stroke="#5c5c5c" stroke-width="0.95"/>
<text transform="translate(31.1,24.75) scale(1,1.1)" font-size="9.3" fill="#222" stroke="#222" stroke-width="0.08" text-anchor="middle">c)</text>
<text transform="translate(184.1,159.1) scale(1,1.1)" font-size="6.4" fill="#111" stroke="#111" stroke-width="0.08" text-anchor="end" xml:space="preserve">0.6 &lt;  R(EIV) = 0.84 &lt; 0.93</text>
</g>
<g transform="translate(205.9,195.2)">
<clipPath id="c205_195"><rect x="24.2" y="15.5" width="166.0" height="148.9"/></clipPath>
<text transform="translate(4,5.3) scale(1,1.1)" font-size="5.6" fill="#f00" stroke="#f00" stroke-width="0.08" text-anchor="start">R(CMIP5)= −0.62</text>
<text transform="translate(101.5,5.6) scale(1,1.1)" font-size="7.2" fill="#111" stroke="#111" stroke-width="0.08" text-anchor="middle">R(EIV)= −0.75</text>
<text transform="translate(198,5.3) scale(1,1.1)" font-size="5.6" fill="#9a9a9a" stroke="#9a9a9a" stroke-width="0.08" text-anchor="end">R(LENS) = −0.04</text>
<line x1="24.2" y1="63" x2="190.2" y2="63" stroke="#cbcbcb" stroke-width="0.8" stroke-dasharray="1.1 1.2"/>
<line x1="84.6" y1="15.5" x2="84.6" y2="164.4" stroke="#cbcbcb" stroke-width="0.8" stroke-dasharray="1.1 1.2"/>
<g clip-path="url(#c205_195)">
<path d="M30.4 21.5 L36 28 L56.2 52.7 L62.9 59.8 L75.6 71.6 L85.8 80.3 L95.9 87.4 L104 90.4 L112.7 92.4 L121 93.7 L130 95 L142 98 L158.6 102.5 L172 105 L183.9 106.7" fill="none" stroke="#5c5c5c" stroke-width="0.78"/>
<path d="M30.4 90.1 L42 91.5 L53.7 93.5 L62 96 L70.5 99.4 L80 104 L88 108.6 L95 116 L107.7 128.6 L114.4 134.5 L122.8 143.8 L130 151.5 L140.5 163.7 L144 168" fill="none" stroke="#5c5c5c" stroke-width="0.78"/>
<path d="M30.4 37.1 L54.5 59.8 L68.8 73 L74 77.4 L88 87.6 L100 94.3 L116.1 101.7 L130 109.4 L142 115.2 L160 122.6 L183.9 132" fill="none" stroke="#444" stroke-width="0.72" stroke-dasharray="0.75 1.6"/>
<path d="M30.4 73.6 L60 87.4 L74 94.5 L88 102.7 L95.9 109 L101.8 113.6 L116.1 125.8 L130 137 L142 147.9 L158.6 163.9 L162 167.2" fill="none" stroke="#444" stroke-width="0.72" stroke-dasharray="0.75 1.6"/>
<circle cx="99.6" cy="60.4" r="0.78" fill="#383838"/>
<circle cx="95" cy="68.5" r="0.78" fill="#383838"/>
<circle cx="104.3" cy="74.1" r="0.78" fill="#383838"/>
<circle cx="92.5" cy="75.8" r="0.78" fill="#383838"/>
<circle cx="96.7" cy="78.6" r="0.78" fill="#383838"/>
<circle cx="109.9" cy="77.8" r="0.78" fill="#383838"/>
<circle cx="95" cy="82.3" r="0.78" fill="#383838"/>
<circle cx="98.7" cy="82" r="0.78" fill="#383838"/>
<circle cx="91.7" cy="86.7" r="0.78" fill="#383838"/>
<circle cx="111" cy="92.4" r="0.78" fill="#383838"/>
<circle cx="83.3" cy="98.8" r="0.78" fill="#383838"/>
<circle cx="90.3" cy="105.9" r="0.78" fill="#383838"/>
<circle cx="95" cy="104.7" r="0.78" fill="#383838"/>
<circle cx="100.1" cy="100" r="0.78" fill="#383838"/>
<circle cx="106" cy="98" r="0.78" fill="#383838"/>
<circle cx="109.4" cy="97.1" r="0.78" fill="#383838"/>
<circle cx="102.6" cy="105" r="0.78" fill="#383838"/>
<circle cx="102.3" cy="111.4" r="0.78" fill="#383838"/>
<circle cx="91.7" cy="114" r="0.78" fill="#383838"/>
<circle cx="101.8" cy="119.7" r="0.78" fill="#383838"/>
<circle cx="94.2" cy="122.2" r="0.78" fill="#383838"/>
<circle cx="99.3" cy="121.9" r="0.78" fill="#383838"/>
<circle cx="104.3" cy="137.9" r="0.78" fill="#383838"/>
<circle cx="90.8" cy="87.4" r="0.78" fill="#383838"/>
<circle cx="102.6" cy="111.5" r="0.78" fill="#383838"/>
<circle cx="100.1" cy="121.9" r="0.78" fill="#383838"/>
<path d="M22.5 50.87 L192.5 164.33" fill="none" stroke="#f00000" stroke-width="0.85"/>
<path d="M22.5 48.28 L192.5 168.82" fill="none" stroke="#202020" stroke-width="0.88"/>
</g>
<text transform="translate(50.3,41.5) scale(1,1.1)" font-size="5.75" fill="#262626" stroke="#262626" stroke-width="0.08" text-anchor="middle">13</text>
<text transform="translate(52,57.8) scale(1,1.1)" font-size="5.75" fill="#262626" stroke="#262626" stroke-width="0.08" text-anchor="middle">3</text>
<text transform="translate(36.3,61.3) scale(1,1.1)" font-size="5.75" fill="#262626" stroke="#262626" stroke-width="0.08" text-anchor="middle">34</text>
<text transform="translate(83.2,74.1) scale(1,1.1)" font-size="5.75" fill="#262626" stroke="#262626" stroke-width="0.08" text-anchor="middle">11</text>
<text transform="translate(60.9,81.9) scale(1,1.1)" font-size="5.75" fill="#262626" stroke="#262626" stroke-width="0.08" text-anchor="middle">23</text>
<text transform="translate(65.5,88.1) scale(1,1.1)" font-size="5.75" fill="#262626" stroke="#262626" stroke-width="0.08" text-anchor="middle">29</text>
<text transform="translate(84,88.4) scale(1,1.1)" font-size="5.75" fill="#262626" stroke="#262626" stroke-width="0.08" text-anchor="middle">32</text>
<text transform="translate(50,100.7) scale(1,1.1)" font-size="5.75" fill="#262626" stroke="#262626" stroke-width="0.08" text-anchor="middle">15</text>
<text transform="translate(77.7,104) scale(1,1.1)" font-size="5.75" fill="#262626" stroke="#262626" stroke-width="0.08" text-anchor="middle">28</text>
<text transform="translate(84.5,108.8) scale(1,1.1)" font-size="5.75" fill="#262626" stroke="#262626" stroke-width="0.08" text-anchor="middle">8</text>
<text transform="translate(115.8,80.5) scale(1,1.1)" font-size="5.75" fill="#262626" stroke="#262626" stroke-width="0.08" text-anchor="middle">33</text>
<text transform="translate(89.7,83.9) scale(1,1.1)" font-size="5.75" fill="#262626" stroke="#262626" stroke-width="0.08" text-anchor="middle">12</text>
<text transform="translate(102.3,85.4) scale(1,1.1)" font-size="5.75" fill="#262626" stroke="#262626" stroke-width="0.08" text-anchor="middle">4</text>
<text transform="translate(105.3,85.5) scale(1,1.1)" font-size="5.75" fill="#262626" stroke="#262626" stroke-width="0.08" text-anchor="middle">5</text>
<text transform="translate(116.9,90) scale(1,1.1)" font-size="5.75" fill="#262626" stroke="#262626" stroke-width="0.08" text-anchor="middle">1</text>
<text transform="translate(95.5,90.7) scale(1,1.1)" font-size="5.75" fill="#262626" stroke="#262626" stroke-width="0.08" text-anchor="middle">18</text>
<text transform="translate(95.5,94.4) scale(1,1.1)" font-size="5.75" fill="#262626" stroke="#262626" stroke-width="0.08" text-anchor="middle">25</text>
<text transform="translate(110.7,106.9) scale(1,1.1)" font-size="5.75" fill="#262626" stroke="#262626" stroke-width="0.08" text-anchor="middle">26</text>
<text transform="translate(114.4,112) scale(1,1.1)" font-size="5.75" fill="#262626" stroke="#262626" stroke-width="0.08" text-anchor="middle">19</text>
<text transform="translate(110.7,95.5) scale(1,1.1)" font-size="5.75" fill="#262626" stroke="#262626" stroke-width="0.08" text-anchor="middle">7</text>
<text transform="translate(105.1,103.5) scale(1,1.1)" font-size="5.75" fill="#262626" stroke="#262626" stroke-width="0.08" text-anchor="middle">1</text>
<text transform="translate(93.9,146.8) scale(1,1.1)" font-size="5.75" fill="#262626" stroke="#262626" stroke-width="0.08" text-anchor="middle">31</text>
<text transform="translate(106.8,150.2) scale(1,1.1)" font-size="5.75" fill="#262626" stroke="#262626" stroke-width="0.08" text-anchor="middle">30</text>
<text transform="translate(107.3,160.8) scale(1,1.1)" font-size="5.75" fill="#262626" stroke="#262626" stroke-width="0.08" text-anchor="middle">17</text>
<text transform="translate(147.7,142) scale(1,1.1)" font-size="5.75" fill="#262626" stroke="#262626" stroke-width="0.08" text-anchor="middle">27</text>
<rect x="24.2" y="15.5" width="166.0" height="148.9" fill="none" stroke="#888" stroke-width="0.75"/>
<line x1="51.5" y1="164.4" x2="51.5" y2="167.4" stroke="#848484" stroke-width="0.78"/>
<line x1="51.5" y1="15.5" x2="51.5" y2="12.5" stroke="#848484" stroke-width="0.78"/>
<text transform="translate(51.5,175) scale(1,1.1)" font-size="5.05" fill="#262626" stroke="#262626" stroke-width="0.08" text-anchor="middle">−0.005</text>
<line x1="84.6" y1="164.4" x2="84.6" y2="167.4" stroke="#848484" stroke-width="0.78"/>
<line x1="84.6" y1="15.5" x2="84.6" y2="12.5" stroke="#848484" stroke-width="0.78"/>
<text transform="translate(84.6,175) scale(1,1.1)" font-size="5.05" fill="#262626" stroke="#262626" stroke-width="0.08" text-anchor="middle">0.000</text>
<line x1="117.7" y1="164.4" x2="117.7" y2="167.4" stroke="#848484" stroke-width="0.78"/>
<line x1="117.7" y1="15.5" x2="117.7" y2="12.5" stroke="#848484" stroke-width="0.78"/>
<text transform="translate(117.7,175) scale(1,1.1)" font-size="5.05" fill="#262626" stroke="#262626" stroke-width="0.08" text-anchor="middle">0.005</text>
<line x1="150.8" y1="164.4" x2="150.8" y2="167.4" stroke="#848484" stroke-width="0.78"/>
<line x1="150.8" y1="15.5" x2="150.8" y2="12.5" stroke="#848484" stroke-width="0.78"/>
<text transform="translate(150.8,175) scale(1,1.1)" font-size="5.05" fill="#262626" stroke="#262626" stroke-width="0.08" text-anchor="middle">0.010</text>
<line x1="183.9" y1="164.4" x2="183.9" y2="167.4" stroke="#848484" stroke-width="0.78"/>
<line x1="183.9" y1="15.5" x2="183.9" y2="12.5" stroke="#848484" stroke-width="0.78"/>
<text transform="translate(183.9,175) scale(1,1.1)" font-size="5.05" fill="#262626" stroke="#262626" stroke-width="0.08" text-anchor="middle">0.015</text>
<line x1="24.2" y1="37.6" x2="21.2" y2="37.6" stroke="#848484" stroke-width="0.78"/>
<line x1="190.2" y1="37.6" x2="193.2" y2="37.6" stroke="#848484" stroke-width="0.78"/>
<text transform="translate(17.4,37.6) rotate(-90) scale(1,1.1)" font-size="5.05" fill="#262626" stroke="#262626" stroke-width="0.08" text-anchor="middle">1</text>
<line x1="24.2" y1="63.1" x2="21.2" y2="63.1" stroke="#848484" stroke-width="0.78"/>
<line x1="190.2" y1="63.1" x2="193.2" y2="63.1" stroke="#848484" stroke-width="0.78"/>
<text transform="translate(17.4,63.1) rotate(-90) scale(1,1.1)" font-size="5.05" fill="#262626" stroke="#262626" stroke-width="0.08" text-anchor="middle">0</text>
<line x1="24.2" y1="88.6" x2="21.2" y2="88.6" stroke="#848484" stroke-width="0.78"/>
<line x1="190.2" y1="88.6" x2="193.2" y2="88.6" stroke="#848484" stroke-width="0.78"/>
<text transform="translate(17.4,88.6) rotate(-90) scale(1,1.1)" font-size="5.05" fill="#262626" stroke="#262626" stroke-width="0.08" text-anchor="middle">−1</text>
<line x1="24.2" y1="114.1" x2="21.2" y2="114.1" stroke="#848484" stroke-width="0.78"/>
<line x1="190.2" y1="114.1" x2="193.2" y2="114.1" stroke="#848484" stroke-width="0.78"/>
<text transform="translate(17.4,114.1) rotate(-90) scale(1,1.1)" font-size="5.05" fill="#262626" stroke="#262626" stroke-width="0.08" text-anchor="middle">−2</text>
<line x1="24.2" y1="139.6" x2="21.2" y2="139.6" stroke="#848484" stroke-width="0.78"/>
<line x1="190.2" y1="139.6" x2="193.2" y2="139.6" stroke="#848484" stroke-width="0.78"/>
<text transform="translate(17.4,139.6) rotate(-90) scale(1,1.1)" font-size="5.05" fill="#262626" stroke="#262626" stroke-width="0.08" text-anchor="middle">−3</text>
<text transform="translate(107.3,186.3) scale(1,1.1)" font-size="7.15" fill="#111" stroke="#111" stroke-width="0.08" text-anchor="middle">RUTAW AT</text>
<text transform="translate(6.4,90.2) rotate(-90) scale(1,1.1)" font-size="7.1" fill="#111" stroke="#111" stroke-width="0.08" text-anchor="middle">JWI AT</text>
<rect x="24.15" y="15.7" width="13" height="12.4" rx="0.6" fill="#fff" stroke="#5c5c5c" stroke-width="0.95"/>
<text transform="translate(30.8,24.75) scale(1,1.1)" font-size="9.3" fill="#222" stroke="#222" stroke-width="0.08" text-anchor="middle">d)</text>
<text transform="translate(184.3,26.2) scale(1,1.1)" font-size="6.4" fill="#111" stroke="#111" stroke-width="0.08" text-anchor="end" xml:space="preserve">−0.92 &lt;  R(EIV) = −0.75 &lt; −0.16</text>
</g>
</svg>
</body></html>
